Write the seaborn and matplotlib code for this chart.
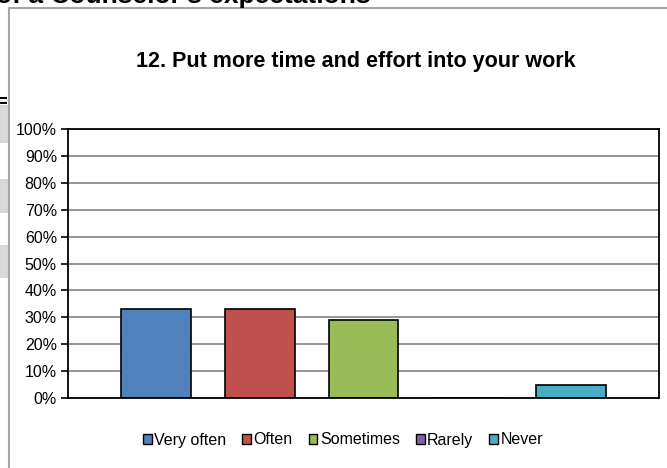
import matplotlib
matplotlib.use('Agg')
import matplotlib.pyplot as plt
import matplotlib.ticker as mtick
from matplotlib.patches import Rectangle, Patch
from matplotlib.lines import Line2D
import seaborn as sns
import pandas as pd

# data
title = "12. Put more time and effort into your work"
responses = ["Very often", "Often", "Sometimes", "Rarely", "Never"]
shares = [0.33, 0.33, 0.29, 0.0, 0.05]
colors = ["#4F81BD", "#C0504D", "#9BBB59", "#8064A2", "#4BACC6"]
y_ticks = [0.0, 0.1, 0.2, 0.3, 0.4, 0.5, 0.6, 0.7, 0.8, 0.9, 1.0]

sns.set_style("white")
plt.rcParams['font.family'] = ['Liberation Sans', 'DejaVu Sans']
plt.rcParams['text.color'] = 'black'
plt.rcParams['ytick.color'] = 'black'
plt.rcParams['ytick.labelcolor'] = 'black'

df = pd.DataFrame({"question": [""] * len(responses),
                   "response": responses,
                   "share": shares})

fig = plt.figure(figsize=(6.67, 4.68), dpi=100)
W, H = 667, 468
ax = fig.add_axes([68 / W, 1 - 398 / H, (659 - 68) / W, (398 - 129) / H])

sns.barplot(data=df, x="question", y="share", hue="response",
            hue_order=responses, palette=colors, saturation=1,
            width=0.877, gap=0.327, edgecolor="black", linewidth=1.2,
            ax=ax, legend=True)

ax.set_xlim(-0.5, 0.5)
ax.set_ylim(0, 1)
ax.set_yticks(y_ticks)
ax.yaxis.set_major_formatter(mtick.PercentFormatter(1.0, decimals=0))
ax.set_xlabel("")
ax.set_ylabel("")
ax.set_xticks([])
ax.yaxis.grid(True, color="#8c8c8c", linewidth=1.3)
ax.set_axisbelow(True)
for s in ax.spines.values():
    s.set_visible(True)
    s.set_color("black")
    s.set_linewidth(1.3)
ax.tick_params(axis="y", which="major", direction="out", length=5, width=1.2,
               color="black", labelsize=11.5, pad=3, left=True)

ax.get_legend().remove()
handles = [Patch(facecolor=c, edgecolor="black", linewidth=1.0) for c in colors]
fig.legend(handles, responses, loc="center", bbox_to_anchor=(343 / W, 1 - 440 / H),
           ncol=5, frameon=False, fontsize=11.5, handlelength=0.55, handleheight=0.6,
           handletextpad=0.15, columnspacing=1.0)

fig.text(356 / W, 1 - 62 / H, title, ha="center", va="center",
         fontsize=15.5, fontweight="bold")

# clipped bits of the surrounding page
fig.text(-4 / W, 1 - 3 / H, "of a Counselor's expectations", ha="left",
         va="baseline", fontsize=19, fontweight="bold")
fig.add_artist(Line2D([9 / W, 9 / W], [0, 1 - 8 / H], color="#a6a6a6", lw=1.5))
fig.add_artist(Line2D([9 / W, 1], [1 - 8 / H, 1 - 8 / H], color="#a6a6a6", lw=1.5))
for top, bot in [(105, 143), (179, 213), (245, 278)]:
    fig.add_artist(Rectangle((0, 1 - bot / H), 8 / W, (bot - top) / H,
                             facecolor="#d9d9d9", edgecolor="none"))
for yy in [97, 102]:
    fig.add_artist(Rectangle((0, 1 - (yy + 2) / H), 7 / W, 2 / H,
                             facecolor="black", edgecolor="none"))

fig.savefig("out.png", dpi=100)
